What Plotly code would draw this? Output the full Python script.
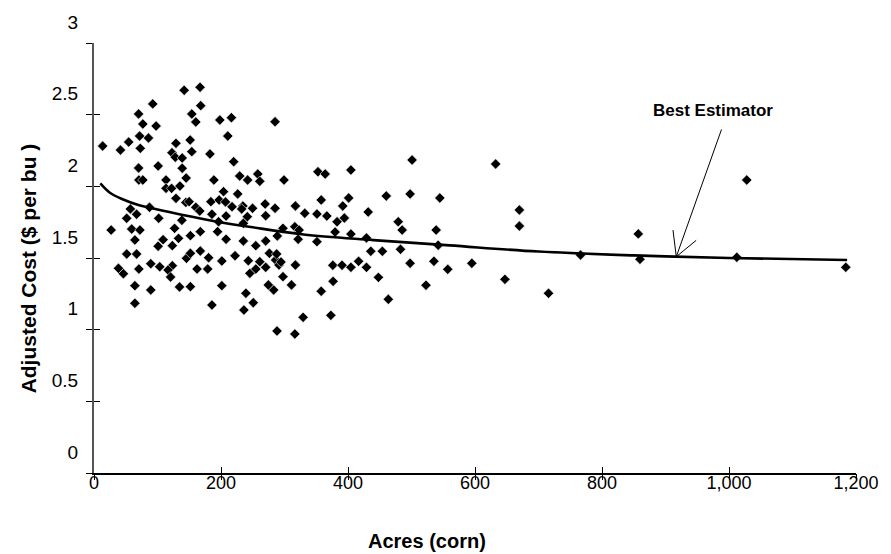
import plotly.graph_objects as go

# ---- data ----
acres = [142, 92.5, 70.2, 76.9, 97.8, 71.8, 85.8, 54.6, 13.6, 41.7, 72.9, 129.1, 122.8, 128.0, 138.9,
         70.2, 101.0, 138.9, 70.7, 76.9, 113.4, 145.1, 113.4, 122.2, 135.3, 129.1, 144.7, 57.3, 87.4,
         167.0, 168.1, 154.0, 160.3, 198.2, 216.4, 285.1, 210.7, 151.4, 154.0, 182.6, 220.0, 188.8,
         229.4, 241.9, 257.9, 261.1, 299.2, 204.0, 226.3, 160.3, 184.1, 197.1, 207.1, 217.4, 234.5,
         249.7, 269.5, 285.1, 317.2, 331.9, 149.8, 67.1, 51.5, 101.9, 138.4, 27.0, 59.3, 72.3, 126.9,
         64.4, 108.8, 101.0, 123.3, 133.1, 51.5, 67.1, 89.4, 103.5, 123.3, 116.6, 120.6, 70.7, 38.5,
         46.3, 64.4, 89.4, 134.7, 64.4, 145.6, 166.5, 185.7, 208.0, 232.5, 241.4, 270.4, 196.2, 235.2,
         297.6, 167.4, 194.6, 151.8, 208.0, 235.2, 270.4, 254.8, 151.8, 167.4, 180.5, 201.3, 222.1,
         243.0, 261.1, 270.4, 286.0, 291.3, 162.3, 179.0, 245.5, 254.8, 151.8, 201.3, 239.2, 282.9,
         297.6, 185.7, 250.8, 236.1, 288.2, 316.3, 288.7, 321.5, 276.2, 287.6, 294.5, 317.2, 311.0,
         329.3, 316.3, 274.6, 500.9, 632.5, 352.7, 364.1, 404.6, 460.3, 497.8, 544.6, 357.8, 401.0,
         669.9, 669.9, 351.1, 366.7, 391.7, 382.8, 394.3, 431.8, 479.1, 485.3, 538.8, 323.0, 351.1,
         379.7, 404.6, 429.1, 482.7, 435.9, 454.1, 542.0, 376.1, 390.6, 404.6, 416.7, 429.1, 497.8,
         535.3, 557.1, 595.0, 376.5, 447.9, 522.8, 647.1, 357.8, 463.5, 715.8, 373.0, 1027.9, 857.2,
         766.2, 859.8, 1012.3, 1183.9]
cost = [2.67, 2.575, 2.505, 2.435, 2.421, 2.351, 2.337, 2.309, 2.281, 2.253, 2.265, 2.300, 2.235, 2.203, 2.198,
        2.128, 2.142, 2.126, 2.044, 2.044, 2.044, 2.058, 1.986, 1.986, 2.002, 1.916, 1.888, 1.842, 1.854,
        2.691, 2.563, 2.505, 2.449, 2.463, 2.479, 2.451, 2.351, 2.323, 2.242, 2.226, 2.172, 2.044,
        2.072, 2.044, 2.086, 2.035, 2.044, 1.963, 1.947, 1.854, 1.893, 1.905, 1.891, 1.858, 1.863,
        1.847, 1.877, 1.847, 1.863, 1.812, 1.893, 1.805, 1.777, 1.777, 1.763, 1.695, 1.702, 1.695, 1.707,
        1.626, 1.628, 1.582, 1.586, 1.637, 1.528, 1.528, 1.460, 1.439, 1.446, 1.416, 1.367, 1.423, 1.428,
        1.390, 1.307, 1.277, 1.298, 1.184, 1.498, 1.828, 1.805, 1.793, 1.842, 1.788, 1.795, 1.753, 1.742,
        1.707, 1.684, 1.684, 1.656, 1.631, 1.619, 1.619, 1.586, 1.533, 1.549, 1.502, 1.479, 1.516,
        1.481, 1.474, 1.435, 1.486, 1.451, 1.423, 1.423, 1.393, 1.423, 1.300, 1.307, 1.254, 1.277,
        1.370, 1.172, 1.188, 1.137, 0.991, 1.718, 1.654, 1.631, 1.533, 1.528, 1.472, 1.451, 1.312,
        1.086, 0.970, 1.312, 2.184, 2.156, 2.102, 2.086, 2.114, 1.933, 1.947, 1.919, 1.905, 1.919,
        1.835, 1.723, 1.807, 1.793, 1.863, 1.753, 1.779, 1.821, 1.753, 1.695, 1.695, 1.695, 1.614,
        1.681, 1.667, 1.640, 1.561, 1.547, 1.547, 1.589, 1.449, 1.449, 1.435, 1.477, 1.435, 1.463,
        1.477, 1.421, 1.463, 1.337, 1.365, 1.310, 1.351, 1.268, 1.212, 1.254, 1.100, 2.044, 1.668,
        1.521, 1.491, 1.505, 1.435]

curve_acres = [10, 25, 45, 70, 100, 140, 190, 250, 330, 440, 560, 700, 850, 1000, 1186]
curve_cost = [2.02, 1.955, 1.91, 1.87, 1.838, 1.80, 1.757, 1.714, 1.664, 1.625, 1.588, 1.545, 1.518, 1.500, 1.486]

x_ticks = [0, 200, 400, 600, 800, 1000, 1200]
x_tick_labels = ["0", "200", "400", "600", "800", "1,000", "1,200"]
y_ticks = [0, 0.5, 1, 1.5, 2, 2.5, 3]
y_tick_labels = ["0", "0.5", "1", "1.5", "2", "2.5", "3"]

FONT = "Liberation Sans, Arial, sans-serif"

fig = go.Figure()
fig.add_trace(go.Scatter(
    x=acres, y=cost, mode="markers", showlegend=False, cliponaxis=False,
    marker=dict(symbol="diamond", size=8, color="black", line=dict(color="white", width=0.6)),
))
fig.add_trace(go.Scatter(
    x=curve_acres, y=curve_cost, mode="lines", showlegend=False,
    line=dict(color="black", width=2.6, shape="spline", smoothing=1.0),
))
# empty trace on overlay axes (gives the crossing tick marks)
fig.add_trace(go.Scatter(x=[None], y=[None], xaxis="x2", yaxis="y2", showlegend=False, hoverinfo="skip"))

# "Best Estimator" label and arrow
head_x, head_y = 917, 1.509
fig.add_annotation(
    x=975, y=2.53, xref="x", yref="y", text="<b>Best Estimator</b>", showarrow=False,
    font=dict(family=FONT, size=17, color="black"), xanchor="center", yanchor="middle",
)
fig.add_annotation(
    x=head_x, y=head_y, ax=989, ay=2.407, xref="x", yref="y", axref="x", ayref="y",
    text="", showarrow=True, arrowhead=0, arrowwidth=1, arrowcolor="black",
)
for bx, by in [(911.8, 1.695), (948.3, 1.623)]:
    fig.add_shape(type="line", x0=head_x, y0=head_y, x1=bx, y1=by, xref="x", yref="y",
                  line=dict(color="black", width=1))

# axis titles
fig.add_annotation(
    x=-0.0858, y=0.475, xref="paper", yref="paper", text="<b>Adjusted Cost ($ per bu )</b>",
    textangle=-90, showarrow=False, font=dict(family=FONT, size=21, color="black"),
    xanchor="center", yanchor="middle",
)
fig.add_annotation(
    x=0.437, y=-0.158, xref="paper", yref="paper", text="<b>Acres (corn)</b>",
    showarrow=False, font=dict(family=FONT, size=20, color="black"),
    xanchor="center", yanchor="middle",
)

fig.update_layout(
    width=891, height=554,
    margin=dict(l=94, r=28, t=43, b=81),
    paper_bgcolor="white", plot_bgcolor="white",
    font=dict(family=FONT, color="black"),
    xaxis=dict(
        range=[0, 1200], tickvals=x_ticks, ticktext=x_tick_labels,
        ticks="inside", ticklen=6, tickcolor="black", showline=True, linecolor="black", linewidth=1.5,
        showgrid=False, zeroline=False, tickfont=dict(size=18), ticklabelstandoff=-7,
    ),
    yaxis=dict(
        range=[0, 3], tickvals=y_ticks, ticktext=y_tick_labels,
        ticks="outside", ticklen=6, tickcolor="black", showline=True, linecolor="#555", linewidth=2,
        showgrid=False, zeroline=False, tickfont=dict(size=19), ticklabelshift=-21,
        ticklabelstandoff=4,
    ),
    xaxis2=dict(
        overlaying="x", anchor="y2", side="bottom", range=[0, 1200], tickvals=x_ticks,
        ticks="outside", ticklen=6, tickcolor="black", showticklabels=False,
        showline=False, showgrid=False, zeroline=False,
    ),
    yaxis2=dict(
        overlaying="y", anchor="x2", side="left", range=[0, 3], tickvals=y_ticks,
        ticks="inside", ticklen=6, tickcolor="black", showticklabels=False,
        showline=False, showgrid=False, zeroline=False,
    ),
)

fig.write_html("out.html", config={"displayModeBar": False},
               post_script="document.body.style.margin='0';")
